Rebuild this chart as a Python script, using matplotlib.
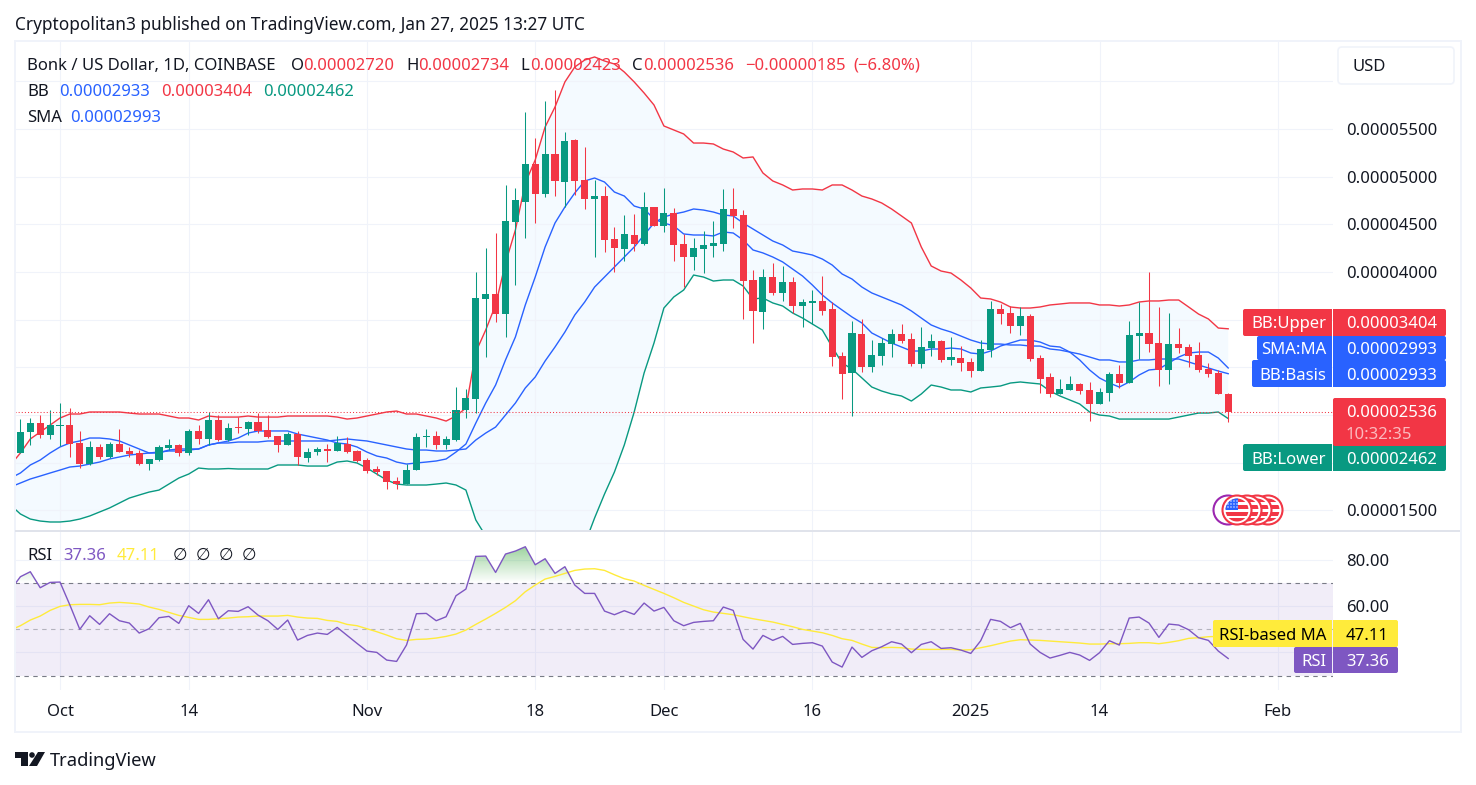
import numpy as np
import matplotlib
matplotlib.use('Agg')
import matplotlib.pyplot as plt
from matplotlib.patches import Rectangle, FancyBboxPatch, Circle, Polygon
from matplotlib.path import Path

plt.rcParams['font.family'] = ['Noto Sans', 'DejaVu Sans']

# prices are in millionths of a dollar, day 0 is Oct 1 2024
candle_days = list(range(-4, 119))
line_days = list(range(-5, 119))

open_ = [21.01,23.21,24.15,22.9,23.84,23.94,22.05,19.85,21.64,20.59,21.95,21.21,21.0,19.85,20.27,21.53,21.85,21.0,23.32,22.48,24.47,22.37,23.74,23.53,24.26,23.42,22.79,21.85,23.0,20.48,21.11,21.43,21.21,21.95,21.21,20.27,19.33,19.12,18.07,17.75,19.22,22.69,22.79,21.85,22.37,25.52,26.67,37.17,37.69,35.59,45.25,47.34,51.33,48.18,52.38,49.44,53.85,49.65,47.66,47.97,43.46,42.41,43.88,42.94,46.82,44.83,46.19,42.94,41.57,42.41,42.73,42.94,46.61,45.98,39.16,35.8,39.47,37.8,38.95,36.43,36.75,36.96,36.12,31.18,29.4,33.49,30.03,31.18,32.44,33.49,32.97,30.35,32.02,32.76,30.77,30.97,30.56,29.61,31.81,36.12,35.7,34.33,35.38,30.97,28.98,27.2,27.62,28.25,27.62,26.15,27.3,29.3,28.35,33.28,33.6,32.55,29.72,32.44,32.13,31.29,29.82,29.4,27.2]
high = [24.57,24.68,25.0,25.52,26.25,25.73,23.32,22.27,21.95,22.16,23.53,21.64,21.32,20.38,21.85,22.48,21.95,23.53,23.94,25.31,25.0,24.15,24.78,24.36,25.2,25.0,22.79,23.21,23.32,21.53,21.64,21.95,22.79,22.69,21.32,20.48,19.64,19.12,18.49,19.85,23.1,23.53,23.32,22.79,27.93,27.72,40.0,42.52,44.09,49.13,48.81,56.79,54.06,57.94,59.1,54.69,53.95,53.11,49.65,49.02,44.72,45.98,46.08,48.39,46.82,48.81,46.71,43.99,43.57,44.3,45.35,48.71,48.81,46.5,40.21,40.31,40.94,40.63,39.47,37.17,38.11,39.58,36.85,31.6,34.86,35.07,32.86,33.07,34.02,34.54,33.6,34.23,33.49,32.86,33.18,32.23,30.97,32.86,36.96,36.64,36.43,36.33,35.59,31.29,29.4,28.77,29.09,28.35,28.46,27.83,29.51,30.24,34.86,36.85,40.0,36.33,35.7,34.12,32.44,32.65,30.45,29.72,27.34]
low = [21.0,21.85,22.58,22.48,21.74,20.59,19.43,19.75,20.38,20.48,21.11,20.59,19.75,19.22,20.17,21.32,20.69,20.79,21.95,21.85,22.27,22.27,23.1,22.9,23.1,22.58,21.11,21.85,19.75,20.06,20.79,20.06,21.21,21.0,20.06,18.91,18.7,17.23,17.23,17.75,19.22,21.64,21.43,21.43,22.27,24.68,25.2,31.08,34.75,33.18,38.63,43.57,45.14,47.87,47.97,46.82,48.08,46.61,41.57,42.1,40.0,41.15,42.2,42.83,44.83,44.2,41.15,38.42,40.21,39.89,41.57,42.2,44.62,35.07,32.55,34.02,37.59,36.96,35.7,34.23,34.54,35.49,30.14,26.67,24.89,29.51,29.51,30.24,31.08,32.55,30.14,29.93,31.18,30.55,30.24,29.61,28.98,29.61,31.08,34.54,33.6,33.39,30.66,27.3,26.88,27.2,27.62,27.2,24.36,26.15,26.46,27.83,28.35,30.87,31.6,28.04,28.25,31.5,30.03,29.51,28.98,27.2,24.23]
close = [23.21,24.15,22.9,23.94,23.94,22.0,19.85,21.64,20.59,21.95,21.11,20.9,19.85,20.38,21.64,21.85,21.0,23.32,22.48,24.47,22.37,23.63,23.63,24.26,23.32,22.69,21.85,23.0,20.59,21.11,21.43,21.21,22.05,21.11,20.17,19.12,19.01,17.96,17.75,19.22,22.69,22.79,21.85,22.48,25.52,26.78,37.27,37.69,35.59,45.35,47.55,51.33,48.18,52.38,49.55,53.75,49.55,47.66,47.97,43.36,42.52,43.99,42.94,46.82,44.83,46.19,42.83,41.57,42.52,42.83,43.04,46.61,45.88,39.05,35.91,39.47,37.8,38.95,36.43,36.85,36.96,35.91,31.08,29.3,33.6,30.03,31.29,32.55,33.49,32.76,30.35,32.13,32.76,30.77,31.08,30.45,29.61,31.92,36.12,35.59,34.33,35.38,30.87,28.77,27.2,27.72,28.25,27.51,26.15,27.41,29.3,28.35,33.39,33.6,32.44,29.72,32.44,32.02,31.18,29.72,29.3,27.2,25.36]

bb_upper = [19.75,21.01,22.48,23.21,23.94,24.68,25.1,25.1,25.31,25.31,25.31,25.31,25.2,25.1,25.1,25.1,24.89,24.68,24.68,24.47,24.89,24.78,24.78,24.78,24.89,24.78,24.78,24.78,24.89,24.89,24.89,24.89,24.89,24.78,24.57,24.68,24.89,25.1,25.31,25.41,25.1,25.1,24.89,24.68,24.36,24.89,25.73,31.6,33.91,36.54,40.94,44.41,49.34,51.75,55.21,57.31,59.94,61.51,62.24,62.56,62.14,61.82,60.98,59.94,58.78,57.52,55.32,54.9,54.48,53.53,53.53,53.43,52.9,52.59,51.96,52.07,50.39,49.55,49.13,48.6,48.71,48.71,48.6,49.13,49.13,48.6,47.97,47.66,47.24,46.61,45.88,45.14,42.62,40.63,40.1,39.89,39.16,38.32,37.27,37.17,36.85,36.33,36.22,36.22,36.33,36.54,36.64,36.75,36.75,36.75,36.54,36.54,36.43,36.54,36.85,36.96,36.96,37.06,37.06,36.33,35.59,35.07,34.12,34.04]
bb_lower = [15.55,14.61,14.08,13.87,13.77,13.77,13.87,14.08,14.4,14.82,15.24,15.76,16.28,16.6,16.91,17.12,17.75,18.38,18.8,19.43,19.33,19.33,19.38,19.33,19.33,19.33,19.33,19.75,19.75,19.75,19.64,19.64,19.64,20.06,20.17,19.96,19.43,18.8,18.17,17.75,17.65,17.65,17.65,17.75,17.86,17.65,17.12,13.98,12.3,10.93,9.04,8.1,6.32,6.21,6.11,6.95,7.47,9.46,11.46,14.19,16.7,19.01,21.85,25.31,29.4,32.55,36.22,37.38,38.11,39.68,39.47,39.05,39.16,39.16,38.53,37.17,37.27,36.75,36.43,35.7,35.17,34.54,33.91,32.13,30.45,29.82,28.88,27.93,27.51,27.2,26.99,26.46,27.2,28.14,27.93,27.62,27.62,27.41,27.83,27.93,28.04,28.35,28.46,28.35,28.25,27.51,26.99,26.57,26.15,25.31,24.99,24.89,24.57,24.57,24.57,24.57,24.57,24.57,24.78,24.99,25.2,25.2,25.31,24.62]
bb_basis = [17.44,17.86,18.28,18.59,18.91,19.22,19.54,19.64,19.85,20.06,20.38,20.59,20.8,20.9,21.01,21.11,21.22,21.22,21.32,21.43,21.85,22.06,22.06,22.16,22.16,22.16,22.27,22.27,22.27,22.27,22.27,22.27,22.27,22.37,22.48,22.37,22.27,22.06,21.85,21.64,21.43,21.32,21.32,21.22,21.22,21.32,21.43,22.37,23.1,23.73,24.99,26.25,27.83,28.98,30.66,32.13,33.7,35.49,36.85,38.42,39.47,40.52,41.57,42.62,43.88,45.14,45.77,46.08,46.29,46.61,46.5,46.29,45.98,45.88,45.14,44.51,43.88,43.25,42.83,42.2,42.0,41.78,41.36,40.73,39.79,39.26,38.42,37.8,37.38,36.96,36.54,35.91,35.17,34.44,34.02,33.7,33.28,32.86,32.55,32.44,32.44,32.34,32.34,32.23,32.23,31.92,31.81,31.6,31.39,31.08,30.77,30.77,30.56,30.56,30.77,30.77,30.87,30.87,30.87,30.56,30.24,29.93,29.61,29.33]
sma = [18.38,18.91,19.75,20.27,21.01,21.64,22.06,22.27,22.58,22.58,22.48,22.27,21.85,21.43,21.01,21.01,21.32,21.43,21.43,21.43,21.85,22.06,22.27,22.58,23.1,23.32,23.32,23.32,23.32,23.0,22.79,22.58,22.37,22.06,21.95,21.64,21.11,20.69,20.48,20.06,19.85,19.96,20.06,20.17,20.38,21.11,21.95,24.15,26.25,28.14,30.77,33.18,36.54,39.47,42.62,45.14,46.82,48.29,49.55,49.86,49.44,48.39,47.97,46.92,46.61,45.56,45.14,44.83,43.99,43.88,43.88,43.78,44.2,44.09,43.36,42.31,42.0,41.57,41.05,40.31,39.58,38.63,37.59,36.75,36.01,35.28,34.65,33.6,33.07,32.55,32.13,31.71,31.71,31.92,31.92,32.02,31.92,31.5,31.39,31.71,32.23,32.55,32.86,32.86,32.65,32.23,32.13,31.6,30.77,29.72,28.88,28.35,27.93,28.46,29.19,29.72,29.82,30.45,31.08,31.5,31.6,31.6,30.97,29.93]

rsi = [67.0,72.76,74.92,68.0,70.3,70.45,60.49,49.96,55.87,52.12,56.74,53.71,52.7,48.37,50.25,55.01,55.59,52.56,60.2,56.88,62.8,54.58,58.04,57.75,59.77,56.16,53.71,49.96,54.0,45.34,47.36,48.37,47.79,50.82,47.36,43.9,40.58,40.0,36.68,36.1,43.18,56.74,56.88,53.71,55.44,64.53,67.42,81.56,81.7,74.63,82.57,83.87,85.74,77.95,80.55,74.2,77.09,69.15,65.54,65.54,57.89,56.31,58.04,56.45,61.36,57.89,59.48,53.71,51.55,52.99,53.42,53.71,59.63,58.18,45.63,41.44,47.36,45.2,46.93,43.46,43.9,44.19,42.74,35.82,33.65,42.31,37.84,40.72,42.45,44.62,43.61,39.86,43.46,44.62,41.73,42.02,41.01,39.57,45.05,54.3,53.43,50.68,52.56,43.61,40.0,37.55,38.71,40.0,38.85,36.54,39.86,45.06,43.18,54.87,55.3,52.7,46.5,52.27,51.84,49.82,46.36,45.2,40.58,37.36]
rsi_ma = [49.67,51.55,54.0,55.73,58.18,59.92,60.64,60.78,60.78,60.64,61.36,61.65,61.36,60.93,59.63,58.62,57.32,56.02,55.15,54.29,54.29,54.58,54.86,55.3,55.44,55.73,55.73,55.73,56.02,55.3,54.86,54.72,53.85,53.42,52.12,51.55,50.25,48.95,47.51,45.92,45.2,45.63,45.77,46.21,46.93,47.94,49.67,52.12,54.43,56.89,59.48,62.37,66.26,69.15,71.75,72.9,74.2,75.5,76.08,76.22,75.5,73.62,71.89,70.88,69.0,67.27,65.54,63.67,61.65,60.06,58.47,57.46,56.89,56.31,55.44,54.58,53.85,53.13,52.12,51.11,49.96,49.24,48.52,47.36,45.92,45.2,43.61,42.17,42.02,42.17,42.02,41.44,41.3,41.3,41.3,41.3,41.01,41.15,42.02,42.89,43.9,44.91,45.49,45.35,45.2,44.91,44.62,44.34,44.05,43.61,43.61,43.76,43.76,43.9,44.19,44.19,43.76,44.34,45.06,46.07,46.36,46.79,46.93,47.11]

last_price = 25.36
price_ticks = [15, 20, 25, 30, 35, 40, 45, 50, 55, 60]
price_labels = ['0.00001500', '', '', '', '', '0.00004000', '0.00004500', '0.00005000', '0.00005500', '']
rsi_grid = [40, 60, 80]
rsi_labels = ['', '60.00', '80.00']
time_ticks = [0, 13, 31, 48, 61, 76, 92, 105, 123]
time_labels = ['Oct', '14', 'Nov', '18', 'Dec', '16', '2025', '14', 'Feb']

RED = '#f23645'
GREEN = '#089981'
BLUE = '#2962ff'
PURPLE = '#7e57c2'
YELLOW = '#ffeb3b'
INK = '#131722'
GRID = '#f0f3fa'
FS = 12

W, H = 1476, 785
fig = plt.figure(figsize=(W / 100, H / 100), dpi=100, facecolor='white')


def pane(left, top, right, bottom):
    return fig.add_axes([left / W, 1 - bottom / H, (right - left) / W, (bottom - top) / H])


# x: 60px is day 0 and one day is 9.9px
xlim = ((15 - 60) / 9.9, (1333 - 60) / 9.9)

ax = pane(15, 42, 1333, 530)
ax.set_xlim(xlim)
ax.set_ylim(12.93, 64.13)
ax.set_axisbelow(True)
ax.grid(color=GRID, lw=0.8)
ax.set_xticks(time_ticks)
ax.set_yticks(price_ticks)
ax.yaxis.tick_right()
ax.set_yticklabels(price_labels, fontsize=FS, color=INK)
ax.tick_params(length=0, labelbottom=False, pad=9.4)
for s in ax.spines.values():
    s.set_visible(False)

ax.fill_between(line_days, bb_upper, bb_lower, facecolor='#f4faff', lw=0, zorder=0.5)
ax.plot(line_days, bb_upper, color=RED, lw=1, zorder=2)
ax.plot(line_days, bb_lower, color=GREEN, lw=1, zorder=2)
ax.plot(line_days, bb_basis, color=BLUE, lw=1, zorder=2)
ax.plot(line_days, sma, color=BLUE, lw=1, zorder=2)

o = np.array(open_)
c = np.array(close)
colors = [GREEN if b >= a else RED for a, b in zip(open_, close)]
ax.vlines(candle_days, low, high, colors=colors, lw=0.75, zorder=3)
ax.bar(candle_days, np.abs(c - o), bottom=np.minimum(o, c), width=0.71, color=colors, lw=0, zorder=4)
ax.axhline(last_price, color=RED, lw=0.75, ls=(0, (1, 2)), zorder=5)

# rsi pane, 80 at 560px and 2.31px per point
ax2 = pane(15, 531, 1333, 690)
ax2.set_xlim(xlim)
ax2.set_ylim(80 - (690 - 560) / 2.31, 80 + (560 - 531) / 2.31)
ax2.set_axisbelow(True)
ax2.grid(color=GRID, lw=0.8)
ax2.set_xticks(time_ticks)
ax2.set_xticklabels(time_labels, fontsize=FS, color=INK)
ax2.get_xticklabels()[6].set_fontweight('bold')
ax2.set_yticks(rsi_grid)
ax2.yaxis.tick_right()
ax2.set_yticklabels(rsi_labels, fontsize=FS, color=INK)
ax2.tick_params(length=0)
ax2.tick_params(axis='x', pad=10)
ax2.tick_params(axis='y', pad=9.4)
for s in ax2.spines.values():
    s.set_visible(False)

ax2.axhspan(30, 70, color=PURPLE, alpha=0.1, lw=0, zorder=1)
ax2.axhline(70, color='#787b86', lw=0.8, ls=(0, (4, 4)), zorder=2)
ax2.axhline(50, color='#787b86', lw=0.8, ls=(0, (4, 4)), alpha=0.5, zorder=2)
ax2.axhline(30, color='#787b86', lw=0.8, ls=(0, (4, 4)), zorder=2)

# green gradient where the rsi is above 70
r = np.array(rsi)
over = ax2.fill_between(line_days, r, 70, where=r > 70, interpolate=True, facecolor='none', lw=0)
grad = np.zeros((64, 2, 4))
grad[..., :3] = (0.30, 0.69, 0.31)
grad[..., 3] = np.linspace(0.6, 0, 64)[:, None]
im = ax2.imshow(grad, extent=(xlim[0], xlim[1], 70, 87), aspect='auto', zorder=2, origin='upper')
im.set_clip_path(Path.make_compound_path(*over.get_paths()), ax2.transData)
ax2.set_xlim(xlim)
ax2.set_ylim(80 - (690 - 560) / 2.31, 80 + (560 - 531) / 2.31)

ax2.plot(line_days, rsi_ma, color=YELLOW, lw=1, zorder=3)
ax2.plot(line_days, rsi, color=PURPLE, lw=1, zorder=4)

# everything else sits on an overlay in pixel coordinates
ov = fig.add_axes([0, 0, 1, 1], facecolor='none')
ov.set_xlim(0, W)
ov.set_ylim(H, 0)
ov.axis('off')


def txt(x, y, s, color=INK, ha='left', size=FS, **kw):
    ov.text(x, y, s, color=color, ha=ha, va='center_baseline', fontsize=size, **kw)


def box(x0, y0, x1, y1, color):
    ov.add_patch(FancyBboxPatch((x0 + 2, y0 + 2), x1 - x0 - 4, y1 - y0 - 4,
                                boxstyle='round,pad=2', fc=color, ec='none'))


# frame
for rect in [(14, 41, 2, 692), (1460, 41, 2, 692), (14, 40, 1448, 2), (14, 731, 1448, 2)]:
    ov.add_patch(Rectangle(rect[:2], rect[2], rect[3], fc=GRID, ec='none'))
ov.add_patch(Rectangle((15, 530), 1445, 1.5, fc='#e0e3eb', ec='none'))

txt(15, 23, 'Cryptopolitan3 published on TradingView.com, Jan 27, 2025 13:27 UTC', size=12.4)

# legend rows
txt(27, 64, 'Bonk / US Dollar, 1D, COINBASE')
for x, s, col in [(291, 'O', INK), (303, '0.00002720', RED), (406, 'H', INK), (418, '0.00002734', RED),
                  (520, 'L', INK), (530, '0.00002423', RED), (632, 'C', INK), (643, '0.00002536', RED),
                  (745, '−0.00000185', RED), (853, '(−6.80%)', RED)]:
    txt(x, 64, s, col)
txt(27, 90, 'BB')
txt(59, 90, '0.00002933', BLUE)
txt(161, 90, '0.00003404', RED)
txt(263, 90, '0.00002462', GREEN)
txt(27, 116, 'SMA')
txt(70, 116, '0.00002993', BLUE)
txt(27, 554, 'RSI')
txt(63, 554, '37.36', PURPLE)
txt(117, 554, '47.11', YELLOW)
for x in [173, 196, 219, 242]:
    txt(x, 554, '∅')

# USD button
ov.add_patch(FancyBboxPatch((1342, 51), 108, 29, boxstyle='round,pad=4', fc='white', ec=GRID, lw=1.2))
txt(1352, 65, 'USD')

# price scale labels
for x0, y0, y1, col, name, val in [(1243, 309, 336, RED, 'BB:Upper', '0.00003404'),
                                   (1257, 336, 360, BLUE, 'SMA:MA', '0.00002993'),
                                   (1252, 360, 387, BLUE, 'BB:Basis', '0.00002933'),
                                   (1243, 444, 471, GREEN, 'BB:Lower', '0.00002462')]:
    box(x0, y0, 1332, y1, col)
    box(1333, y0, 1446, y1, col)
    ov.add_patch(Rectangle((1326, y0), 6, y1 - y0, fc=col, ec='none'))
    ov.add_patch(Rectangle((1333, y0), 6, y1 - y0, fc=col, ec='none'))
    txt(1326, (y0 + y1) / 2, name, 'white', ha='right')
    txt(1346, (y0 + y1) / 2, val, 'white')
box(1333, 398, 1446, 446, RED)
txt(1346, 411, '0.00002536', 'white')
txt(1346, 433, '10:32:35', '#fbb9be')
for x0, y0, y1, col, name, val, fg in [(1213, 620, 647, YELLOW, 'RSI-based MA', '47.11', 'black'),
                                       (1294, 647, 673, PURPLE, 'RSI', '37.36', 'white')]:
    box(x0, y0, 1332, y1, col)
    box(1333, y0, 1398, y1, col)
    ov.add_patch(Rectangle((1326, y0), 6, y1 - y0, fc=col, ec='none'))
    ov.add_patch(Rectangle((1333, y0), 6, y1 - y0, fc=col, ec='none'))
    txt(1326, (y0 + y1) / 2, name, fg, ha='right')
    txt(1346, (y0 + y1) / 2, val, fg)

# event badges
ov.add_patch(Circle((1228, 510), 14.5, fc='white', ec='#9c27b0', lw=1.5))
for cx in [1268, 1257, 1247, 1237]:
    ov.add_patch(Circle((cx, 510), 14.5, fc='white', ec=RED, lw=1.5))
    clip = Circle((cx, 510), 11.5, transform=ov.transData)
    for sy in [498, 505, 512, 518]:
        p = ov.add_patch(Rectangle((cx - 12, sy), 24, 3.6, fc=RED, ec='none'))
        p.set_clip_path(clip)
clip = Circle((1237, 510), 11.5, transform=ov.transData)
p = ov.add_patch(Rectangle((1225, 498), 13, 12, fc='#2962ff', ec='none'))
p.set_clip_path(clip)
for dx in [1228, 1231, 1234, 1237]:
    for dy in [501, 504, 507]:
        ov.add_patch(Circle((dx, dy), 0.7, fc='white', ec='none'))

# logo
ov.add_patch(Polygon([(15, 752), (28, 752), (28, 766), (21, 766), (21, 758), (15, 758)], fc=INK, ec='none'))
ov.add_patch(Circle((32, 755), 2.8, fc=INK, ec='none'))
ov.add_patch(Polygon([(36, 766), (37, 766), (45, 752), (38, 752), (29, 766)], fc=INK, ec='none'))
txt(50, 759, 'TradingView', size=13.2)

fig.savefig('out.png', dpi=100)
